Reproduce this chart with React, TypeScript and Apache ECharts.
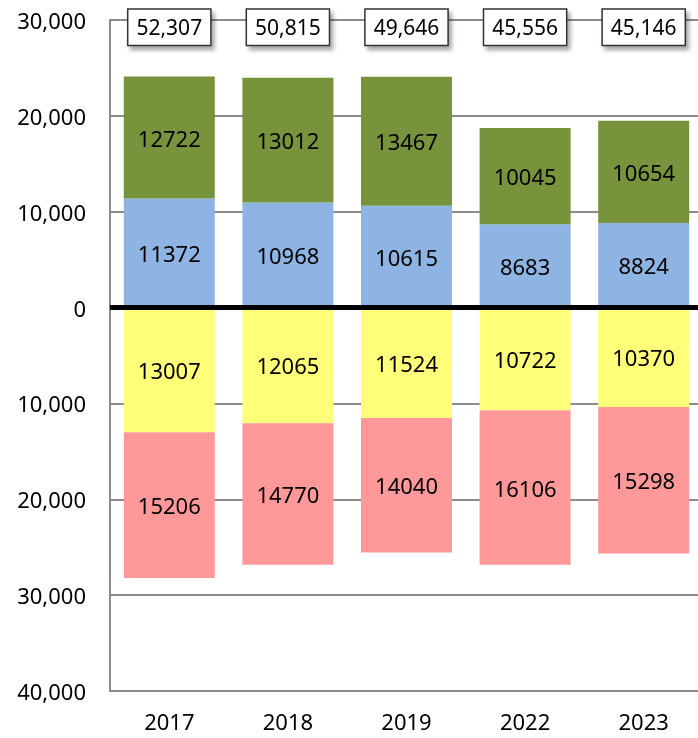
import React, { useEffect, useRef } from "react";
import * as echarts from "echarts";

const categories = ["2017", "2018", "2019", "2022", "2023"];
const blueValues = [11372, 10968, 10615, 8683, 8824];
const greenValues = [12722, 13012, 13467, 10045, 10654];
const yellowValues = [13007, 12065, 11524, 10722, 10370];
const pinkValues = [15206, 14770, 14040, 16106, 15298];
const totals = categories.map(
  (_, i) => blueValues[i] + greenValues[i] + yellowValues[i] + pinkValues[i]
);

const FONT = "'Noto Sans', sans-serif";
const GRAY = "#8c8c8c";

export default function App() {
  const ref = useRef<HTMLDivElement>(null);
  useEffect(() => {
    if (!ref.current) return;
    const chart = echarts.init(ref.current, null, { renderer: "svg" });
    const fmt = (v: number) => Math.abs(v).toLocaleString("en-US");
    const barLabel = {
      show: true,
      position: "inside",
      color: "#000",
      fontSize: 22,
      fontFamily: FONT,
      formatter: (p: any) => String(Math.abs(p.value)),
    };
    chart.setOption({
      animation: false,
      grid: { left: 110, width: 593, top: 20, bottom: 47, outerBoundsMode: "none", containLabel: false },
      xAxis: {
        type: "category",
        data: categories,
        axisLine: { show: true, onZero: false, lineStyle: { color: GRAY, width: 2 } },
        axisTick: { show: false },
        axisLabel: { color: "#000", fontSize: 22, fontFamily: FONT, margin: 19 },
      },
      yAxis: {
        type: "value",
        min: -40000,
        max: 30000,
        interval: 10000,
        axisLine: { show: true, lineStyle: { color: GRAY, width: 2 } },
        axisTick: { show: false },
        splitLine: { show: true, lineStyle: { color: GRAY, width: 2 } },
        axisLabel: {
          color: "#000",
          fontSize: 22,
          fontFamily: FONT,
          margin: 24,
          formatter: fmt,
        },
      },
      series: [
        {
          type: "bar",
          stack: "a",
          barWidth: 91,
          data: blueValues,
          itemStyle: { color: "#8DB4E2" },
          label: barLabel,
          markLine: {
            silent: true,
            symbol: ["none", "none"],
            label: { show: false },
            lineStyle: { color: "#000", width: 5, type: "solid" },
            data: [{ yAxis: 0 }],
            z: 10,
          },
        },
        {
          type: "bar",
          stack: "a",
          barWidth: 91,
          data: greenValues,
          itemStyle: { color: "#77933C" },
          label: barLabel,
        },
        {
          type: "bar",
          stack: "a",
          barWidth: 91,
          data: yellowValues.map((v) => -v),
          itemStyle: { color: "#FFFF79" },
          label: barLabel,
        },
        {
          type: "bar",
          stack: "a",
          barWidth: 91,
          data: pinkValues.map((v) => -v),
          itemStyle: { color: "#FF9999" },
          label: barLabel,
        },
        {
          type: "scatter",
          symbolSize: 0,
          data: totals.map(() => 29250),
          z: 20,
          itemStyle: { opacity: 1 },
          label: {
            show: true,
            position: "inside",
            formatter: (p: any) => totals[p.dataIndex].toLocaleString("en-US"),
            color: "#000",
            fontSize: 21,
            fontFamily: FONT,
            lineHeight: 25,
            backgroundColor: "#ffffff",
            borderColor: "#333",
            borderWidth: 1.5,
            padding: [5, 8, 5, 8],
            shadowColor: "rgba(0,0,0,0.35)",
            shadowBlur: 4,
            shadowOffsetX: 3,
            shadowOffsetY: 4,
          },
        },
      ],
    });
    return () => chart.dispose();
  }, []);
  return (
    <div
      ref={ref}
      style={{ position: "fixed", left: 0, top: 0, width: 698, height: 738 }}
    />
  );
}
